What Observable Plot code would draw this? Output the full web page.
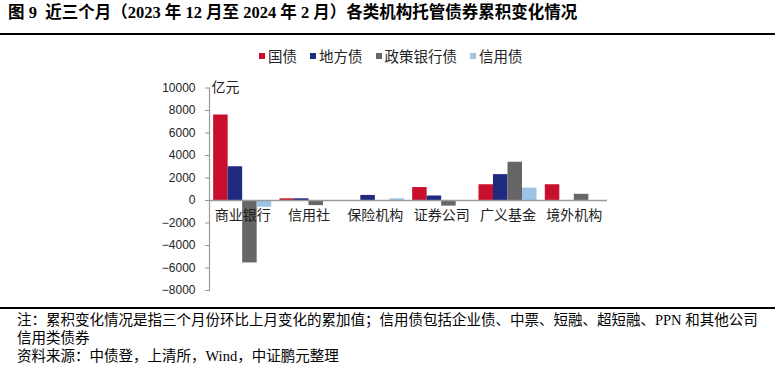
<!DOCTYPE html>
<html>
<head>
<meta charset="utf-8">
<script src="https://cdn.jsdelivr.net/npm/d3@7"></script>
<script src="https://cdn.jsdelivr.net/npm/@observablehq/plot@0.6"></script>
<style>
  html, body { margin: 0; padding: 0; background: #fff; }
  body { width: 782px; height: 371px; position: relative; overflow: hidden; }
  #title { position: absolute; left: 8px; top: 3px; font: bold 16.5px "Liberation Serif", "Noto Sans CJK SC", serif; color: #000; white-space: pre; line-height: 20px; }
  .rule { position: absolute; left: 0; width: 775px; height: 2px; background: #000; }
  #legend { position: absolute; left: 259px; top: 46px; display: flex; align-items: center; font: 14.5px "Noto Sans CJK SC", sans-serif; line-height: 20px; color: #222; white-space: nowrap; }
  #legend .item { display: flex; align-items: center; margin-right: 13px; }
  #legend .sw { width: 6px; height: 6px; margin-right: 3px; }
  #chart { position: absolute; left: 0; top: 70px; }
  #footer { position: absolute; left: 17px; top: 311px; font: 14.5px "Liberation Serif", "Noto Sans CJK SC", serif; line-height: 18px; color: #000; white-space: nowrap; }
</style>
</head>
<body>
<div id="title"></div>
<div class="rule" style="top:33px"></div>
<div id="legend"></div>
<div id="chart"></div>
<div class="rule" style="top:307px"></div>
<div id="footer"></div>
<script>
// ---- data ----
const titleText = "图 9  近三个月（2023 年 12 月至 2024 年 2 月）各类机构托管债券累积变化情况";
const categories = ["商业银行", "信用社", "保险机构", "证券公司", "广义基金", "境外机构"];
const seriesNames = ["国债", "地方债", "政策银行债", "信用债"];
const guozhai   = [7600, 150, 0, 1150, 1400, 1400];
const difangzhai = [3000, 150, 450, 400, 2300, 0];
const zhengce   = [-5550, -450, 0, -500, 3400, 550];
const xinyong   = [-600, 0, 150, 0, 1100, 0];
const yTicks = [-8000, -6000, -4000, -2000, 0, 2000, 4000, 6000, 8000, 10000];
const unitLabel = "亿元";
const footerLines = [
  "注：累积变化情况是指三个月份环比上月变化的累加值；信用债包括企业债、中票、短融、超短融、PPN 和其他公司",
  "信用类债券",
  "资料来源：中债登，上清所，Wind，中证鹏元整理"
];
const colors = ["#C8102E", "#1F2A80", "#666666", "#9DC3E6"];
const seriesValues = [guozhai, difangzhai, zhengce, xinyong];

// ---- text blocks ----
document.getElementById("title").textContent = titleText;
const legend = document.getElementById("legend");
seriesNames.forEach((name, i) => {
  const item = document.createElement("div");
  item.className = "item";
  const sw = document.createElement("div");
  sw.className = "sw";
  sw.style.background = colors[i];
  const t = document.createElement("span");
  t.textContent = name;
  item.appendChild(sw); item.appendChild(t);
  legend.appendChild(item);
});
const footer = document.getElementById("footer");
footerLines.forEach(l => { const d = document.createElement("div"); d.textContent = l; footer.appendChild(d); });

// ---- chart ----
const W = 782, H = 235;
const mL = 209, mR = 175, mT = 17.5, mB = 15;
const padIn = 0.125, padOut = 0.0625;
const step = (W - mL - mR) / (categories.length - padIn + 2 * padOut);
const bw = step * (1 - padIn) / seriesNames.length;

const barMarks = seriesValues.map((vals, k) =>
  Plot.barY(categories, {
    x: d => d,
    y: (d, i) => vals[i],
    fill: colors[k],
    insetLeft: k * bw,
    insetRight: (seriesNames.length - 1 - k) * bw
  })
);

const chart = Plot.plot({
  width: W, height: H,
  marginLeft: mL, marginRight: mR, marginTop: mT, marginBottom: mB,
  style: { fontFamily: "'Liberation Sans', 'Noto Sans CJK SC', sans-serif", fontSize: "12px", color: "#222", background: "transparent" },
  x: { domain: categories, paddingInner: padIn, paddingOuter: padOut, round: false, axis: null },
  y: { domain: [-8000, 10000], axis: null },
  marks: [
    ...barMarks,
    Plot.ruleY([0], { stroke: "#9a9a9a", strokeWidth: 1.5 }),
    Plot.frame({ anchor: "left", stroke: "#9a9a9a", strokeWidth: 1.2 }),
    Plot.axisY({ ticks: yTicks, tickSize: 4, tickPadding: 10, tickFormat: d3.format("d"), stroke: "#9a9a9a", fill: "#222", fontSize: 12, label: null }),
    Plot.text(categories, { x: d => d, y: () => 0, text: d => d, dy: 15, fontSize: 14, fill: "#222", fontFamily: "'Noto Sans CJK SC', sans-serif" }),
    Plot.text([unitLabel], { frameAnchor: "top-left", lineAnchor: "middle", textAnchor: "start", dx: 2, fontSize: 14, fill: "#222", fontFamily: "'Noto Sans CJK SC', sans-serif" })
  ]
});
document.getElementById("chart").appendChild(chart);
</script>
</body>
</html>
